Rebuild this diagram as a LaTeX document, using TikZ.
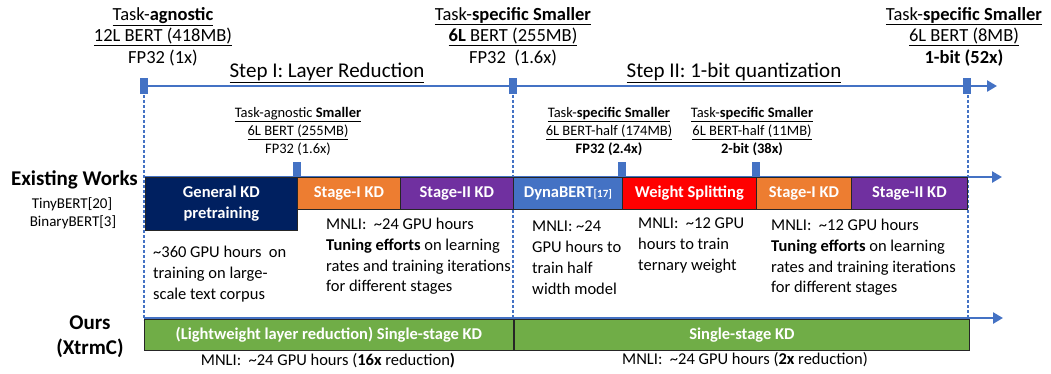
\documentclass[tikz,border=0pt]{standalone}
\usepackage{fontspec}
\setmainfont{Carlito}
\usetikzlibrary{arrows.meta, positioning}

\definecolor{xblue}{HTML}{4472C4}
\definecolor{xnavy}{HTML}{002060}
\definecolor{xorange}{HTML}{ED7D31}
\definecolor{xpurple}{HTML}{7030A0}
\definecolor{xred}{HTML}{FF0000}
\definecolor{xgreen}{HTML}{70AD47}

\newcommand{\fsz}[2]{\fontsize{#1pt}{#2pt}\selectfont}

\tikzset{
  track/.style={xblue, line width=2.5pt, -{Triangle[length=10pt,width=11pt]}},
  guide/.style={xblue, line width=2pt, dash pattern=on 2.5pt off 2.5pt},
  stagebox/.style={draw=black!85, line width=0.8pt, text=white, inner sep=0pt,
    anchor=north west, font=\fsz{16.5}{21}\bfseries},
  model/.style={align=center, anchor=north, inner sep=0pt, font=\fsz{18.5}{21.5}},
  smallmodel/.style={align=center, anchor=north, inner sep=0pt, font=\fsz{14.5}{18}},
  steplabel/.style={inner sep=0pt, font=\fsz{21}{24}},
  cost/.style={align=left, anchor=north west, inner sep=0pt, font=\fsz{16.5}{20.7}},
}

\begin{document}
\begin{tikzpicture}[x=1pt,y=-1pt]
\useasboundingbox (0,0) rectangle (1051,373);

\coordinate (top0) at (144,86);
\coordinate (top1) at (997,86);
\coordinate (mid0) at (144,177);
\coordinate (mid1) at (1002,177);
\coordinate (low0) at (144,318);
\coordinate (low1) at (1003,318);

\foreach\x/\y in {144/320,513/350,968/350}
  \draw[guide] (\x,95) -- (\x,\y);

\draw[track] (top0) -- (top1);
\draw[track] (mid0) -- (mid1);
\draw[track] (low0) -- (low1);

\foreach\x in {144,513,967}
  \fill[xblue] (\x-4,78) rectangle (\x+4,94);
\foreach\x in {297,622,756}
  \fill[xblue] (\x-4,162) rectangle (\x+4,177);

% existing pipeline
\node[stagebox, fill=xnavy, minimum width=152pt, minimum height=53pt, align=center]
  (gkd) at (145,177) {General KD\\pretraining};
\foreach \xa/\xb/\col/\name/\txt in {
    297/400/xorange/sa/Stage-I KD,
    400/513/xpurple/sb/Stage-II KD,
    513/622/xblue/dyna/{DynaBERT{\fsz{11}{13}[17]}},
    622/756/xred/split/Weight Splitting,
    756/851/xorange/sc/Stage-I KD,
    851/967/xpurple/sd/Stage-II KD}
  \node[stagebox, fill=\col, minimum width={(\xb-\xa)*1pt}, minimum height=32pt]
    (\name) at (\xa,177) {\txt};

% our pipeline
\node[stagebox, fill=xgreen, minimum width=369pt, minimum height=31pt]
  (lrkd) at (144,319) {(Lightweight layer reduction) Single-stage KD};
\node[stagebox, fill=xgreen, minimum width=455pt, minimum height=31pt]
  (qkd) at (514,319) {Single-stage KD};

% models on the main axis
\node[model] (src) at (163,7) {\underline{Task-\textbf{agnostic}}\\
  \underline{12L BERT (418MB)}\\FP32 (1x)};
\node[model] (mid) at (513,7) {\underline{Task-\textbf{specific Smaller}}\\
  \underline{\textbf{6L} BERT (255MB)}\\FP32\ \ (1.6x)};
\node[model] (dst) at (964,7) {\underline{Task-\textbf{specific Smaller}}\\
  \underline{6L BERT (8MB)}\\\textbf{1-bit (52x)}};

\node[steplabel] (step1) at (327,73) {\underline{Step I: Layer Reduction}};
\node[steplabel] (step2) at (734,73) {\underline{Step II: 1-bit quantization}};

% intermediate models
\node[smallmodel] (m1) at (298,107) {\underline{Task-agnostic \textbf{Smaller}}\\
  \underline{6L BERT (255MB)}\\FP32 (1.6x)};
\node[smallmodel] (m2) at (609,107) {\underline{Task-\textbf{specific Smaller}}\\
  \underline{6L BERT-half (174MB)}\\\textbf{FP32 (2.4x)}};
\node[smallmodel] (m3) at (752,107) {\underline{Task-\textbf{specific Smaller}}\\
  \underline{6L BERT-half (11MB)}\\\textbf{2-bit (38x)}};

% row titles
\node[anchor=east, inner sep=0pt, font=\fsz{21}{24}\bfseries] (ew) at (138,180) {Existing Works};
\node[inner sep=0pt, font=\fsz{15}{18}] (tb) at (72,204) {TinyBERT[20]};
\node[inner sep=0pt, font=\fsz{15}{18}] (bb) at (73,222) {BinaryBERT[3]};
\node[inner sep=0pt, font=\fsz{21}{24}\bfseries] (ours) at (90,323) {Ours};
\node[inner sep=0pt, font=\fsz{21}{24}\bfseries] (xc) at (90,348) {(XtrmC)};

% costs
\node[cost] (c1) at (153,246) {\textasciitilde360 GPU hours\ \ on\\training on large-\\scale text corpus};
\node[cost] (c2) at (326,218) {MNLI:\ \ \textasciitilde24 GPU hours\\\textbf{Tuning efforts} on learning\\
  rates and training iterations\\for different stages};
\node[cost] (c3) at (532,221) {MNLI: \textasciitilde24\\GPU hours to\\train half\\width model};
\node[cost] (c4) at (638,218) {MNLI:\ \ \textasciitilde12 GPU\\hours to train\\ternary weight};
\node[cost] (c5) at (771,219) {MNLI:\ \ \textasciitilde12 GPU hours\\\textbf{Tuning efforts} on learning\\
  rates and training iterations\\for different stages};

\node[inner sep=0pt, font=\fsz{16.5}{20}] (n1) at (328,361)
  {MNLI:\ \ \textasciitilde24 GPU hours (\textbf{16x} reduction\textbf{)}};
\node[inner sep=0pt, font=\fsz{16.5}{20}] (n2) at (745,360)
  {MNLI:\ \ \textasciitilde24 GPU hours (\textbf{2x} reduction)};
\end{tikzpicture}
\end{document}
